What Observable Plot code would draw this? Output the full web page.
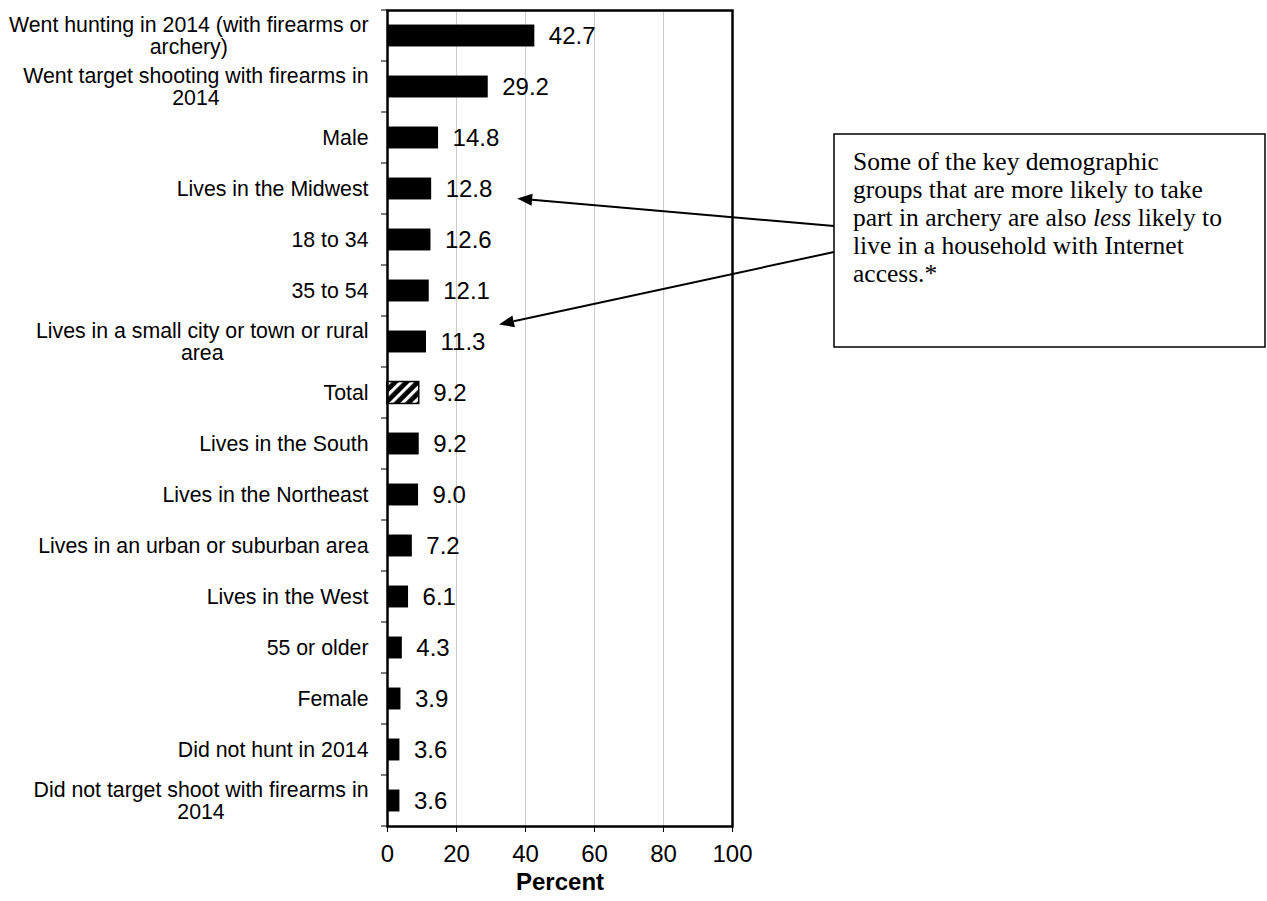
<!DOCTYPE html>
<html>
<head>
<meta charset="utf-8">
<script src="https://cdn.jsdelivr.net/npm/d3@7"></script>
<script src="https://cdn.jsdelivr.net/npm/@observablehq/plot@0.6"></script>
<style>
  body { margin: 0; background: #fff; }
  #chart svg { display: block; }
</style>
</head>
<body>
<div id="chart"></div>
<script>
// Share of each group that took part in archery (percent)
const categories = [
  "Went hunting in 2014 (with firearms or archery)",
  "Went target shooting with firearms in 2014",
  "Male",
  "Lives in the Midwest",
  "18 to 34",
  "35 to 54",
  "Lives in a small city or town or rural area",
  "Total",
  "Lives in the South",
  "Lives in the Northeast",
  "Lives in an urban or suburban area",
  "Lives in the West",
  "55 or older",
  "Female",
  "Did not hunt in 2014",
  "Did not target shoot with firearms in 2014"
];
const values = [42.7, 29.2, 14.8, 12.8, 12.6, 12.1, 11.3, 9.2, 9.2, 9.0, 7.2, 6.1, 4.3, 3.9, 3.6, 3.6];

// Category labels as they wrap beside the axis
const tickLabels = [
  "Went hunting in 2014 (with firearms or\narchery)",
  "Went target shooting with firearms in\n2014",
  "Male",
  "Lives in the Midwest",
  "18 to 34",
  "35 to 54",
  "Lives in a small city or town or rural\narea",
  "Total",
  "Lives in the South",
  "Lives in the Northeast",
  "Lives in an urban or suburban area",
  "Lives in the West",
  "55 or older",
  "Female",
  "Did not hunt in 2014",
  "Did not target shoot with firearms in\n2014"
];
const xTicks = [0, 20, 40, 60, 80, 100];
const xLabel = "Percent";

// Call-out text and the rows it points at
const noteLines = [
  [{t: "Some of the key demographic"}],
  [{t: "groups that are more likely to take"}],
  [{t: "part in archery are also "}, {t: "less", i: true}, {t: " likely to"}],
  [{t: "live in a household with Internet"}],
  [{t: "access.*"}]
];
const noteTargets = ["Lives in the Midwest", "Lives in a small city or town or rural area"];

const rows = categories.map((category, i) => ({category, value: values[i], label: tickLabels[i]}));
const labelOf = new Map(rows.map(d => [d.category, d.label]));

const chart = Plot.plot({
  width: 1267,
  height: 901,
  marginLeft: 387,
  marginRight: 535,
  marginTop: 10,
  marginBottom: 75,
  style: {fontFamily: "'Liberation Sans', Arial, sans-serif", background: "white", color: "black", overflow: "visible"},
  x: {domain: [0, 100], ticks: xTicks, round: false},
  y: {domain: categories, paddingInner: 0.57, paddingOuter: 0.285, round: false},
  marks: [
    Plot.gridX(xTicks.filter(t => t > 0 && t < 100), {stroke: "#cccccc", strokeOpacity: 1, strokeWidth: 1}),
    Plot.barX(rows.filter(d => d.category !== "Total"), {x: "value", y: "category", fill: "black"}),
    Plot.barX(rows.filter(d => d.category === "Total"), {x: "value", y: "category", fill: "url(#hatch)", stroke: "black", strokeWidth: 1.5}),
    Plot.text(rows, {x: "value", y: "category", text: d => d.value.toFixed(1), textAnchor: "start", dx: 14, fontSize: 24, fill: "black"}),
    Plot.frame({stroke: "black", strokeWidth: 2.5}),
    Plot.axisX({ticks: xTicks, tickSize: 6, tickPadding: 12, fontSize: 24, label: null, stroke: "black"}),
    Plot.axisY({tickSize: 0, tickPadding: 19, fontSize: 21.3, lineHeight: 1.04, label: null, tickFormat: d => labelOf.get(d)}),
    Plot.text([xLabel], {frameAnchor: "bottom", dy: 63, fontSize: 24, fontWeight: "bold", fill: "black"})
  ]
});

document.getElementById("chart").append(chart);

const svg = d3.select(chart);
const xs = chart.scale("x");
const ys = chart.scale("y");

// Diagonal hatch for the Total bar
const defs = svg.insert("defs", ":first-child");
const pat = defs.append("pattern")
  .attr("id", "hatch")
  .attr("patternUnits", "userSpaceOnUse")
  .attr("width", 8).attr("height", 8)
  .attr("patternTransform", "rotate(45)");
pat.append("rect").attr("width", 8).attr("height", 8).attr("fill", "black");
pat.append("rect").attr("width", 3.2).attr("height", 8).attr("fill", "white");

// Centre the wrapped lines of each category label under the first line
svg.selectAll("g[aria-label='y-axis tick label'] text").each(function () {
  const spans = Array.from(this.querySelectorAll("tspan"));
  if (spans.length < 2) return;
  const widths = spans.map(s => s.getComputedTextLength());
  const wMax = Math.max(...widths);
  spans.forEach((s, k) => {
    const x0 = parseFloat(s.getAttribute("x")) || 0;
    s.setAttribute("x", x0 - (wMax - widths[k]) / 2);
  });
});

// Small tick marks on the category axis at the band boundaries
const gap = (ys.step - ys.bandwidth) / 2;
const xLeft = xs.apply(0);
const bounds = categories.map(c => ys.apply(c) - gap);
bounds.push(ys.apply(categories[categories.length - 1]) + ys.bandwidth + gap);
svg.append("g").selectAll("line").data(bounds).join("line")
  .attr("x1", xLeft - 6).attr("x2", xLeft)
  .attr("y1", d => d).attr("y2", d => d)
  .attr("stroke", "black").attr("stroke-width", 1);

// Call-out box
const box = {x: 834, y: 134, w: 431, h: 213, padX: 19, firstLine: 170, lineStep: 28};
const note = svg.append("g");
note.append("rect")
  .attr("x", box.x).attr("y", box.y).attr("width", box.w).attr("height", box.h)
  .attr("fill", "white").attr("stroke", "black").attr("stroke-width", 1.5);
const noteText = note.append("text")
  .attr("font-family", "'Liberation Serif', 'Times New Roman', serif")
  .attr("font-size", 25.5).attr("fill", "black")
  .attr("text-anchor", "start");
noteLines.forEach((parts, k) => {
  const line = noteText.append("tspan").attr("x", box.x + box.padX).attr("y", box.firstLine + k * box.lineStep);
  parts.forEach(p => {
    const s = line.append("tspan").text(p.t);
    if (p.i) s.attr("font-style", "italic");
  });
});

// Arrows from the box to the value labels of the pointed rows
const arrowSpecs = [
  {target: noteTargets[0], tailY: 226, tipDx: 86, tipDy: 10},
  {target: noteTargets[1], tailY: 252, tipDx: 73, tipDy: -17}
];
const arrows = svg.append("g");
arrowSpecs.forEach(a => {
  const v = values[categories.indexOf(a.target)];
  const tipX = xs.apply(v) + a.tipDx;
  const tipY = ys.apply(a.target) + ys.bandwidth / 2 + a.tipDy;
  const tailX = box.x, tailY = a.tailY;
  const ang = Math.atan2(tipY - tailY, tipX - tailX);
  const len = 15, half = 6;
  const bx = tipX - len * Math.cos(ang), by = tipY - len * Math.sin(ang);
  arrows.append("line")
    .attr("x1", tailX).attr("y1", tailY).attr("x2", bx).attr("y2", by)
    .attr("stroke", "black").attr("stroke-width", 2);
  const px = -Math.sin(ang) * half, py = Math.cos(ang) * half;
  arrows.append("path")
    .attr("d", `M${tipX},${tipY}L${bx + px},${by + py}L${bx - px},${by - py}Z`)
    .attr("fill", "black");
});
</script>
</body>
</html>
